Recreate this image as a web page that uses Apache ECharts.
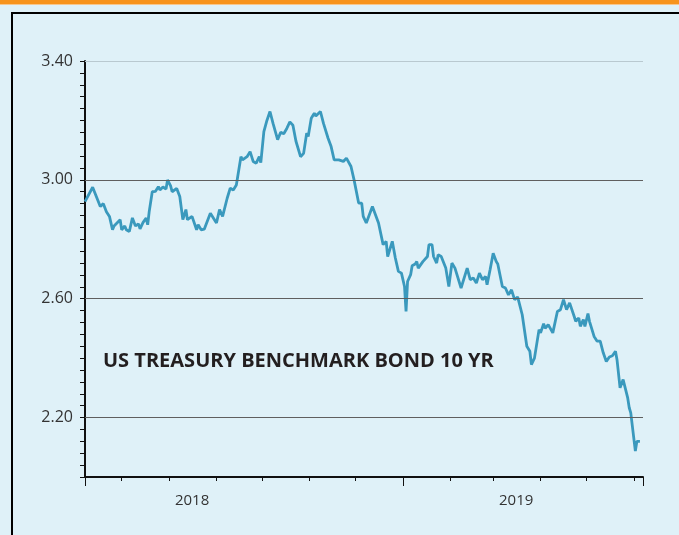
<!DOCTYPE html>
<html>
<head>
<meta charset="utf-8">
<script src="https://cdn.jsdelivr.net/npm/echarts@6/dist/echarts.min.js"></script>
<style>
  html, body { margin: 0; padding: 0; background: #dff1f8; overflow: hidden; }
  #topBar { position: absolute; left: 0; top: 0; width: 679px; height: 4px; background: #f7941d; border-bottom: 1px solid #f6c78f; }
  #frame { position: absolute; left: 11px; top: 12px; width: 700px; height: 560px; border: 2px solid #000; }
  #chart { position: absolute; left: 0; top: 0; width: 679px; height: 535px; }
</style>
</head>
<body>
<div id="topBar"></div>
<div id="frame"></div>
<div id="chart"></div>
<script>
  // 10yr yield; offsets are days after startDate
  var startDate = [2018, 5, 7];
  var endDate = [2019, 5, 7];
  var dayOffsets = [0, 5, 10, 12, 14, 16, 18, 19, 23, 24, 26, 27, 29, 31, 33, 35, 36, 38, 40, 41,
    42, 44, 46, 48, 49, 51, 53, 54, 56, 57, 60, 61, 62, 64, 66, 67, 70, 71, 73, 74,
    76, 78, 82, 86, 88, 90, 93, 94, 95, 97, 99, 102, 103, 106, 108, 110, 112, 114, 115, 117,
    119, 121, 123, 126, 128, 130, 132, 134, 136, 138, 139, 141, 143, 145, 146, 148, 150, 151, 154, 156,
    157, 159, 161, 163, 166, 169, 171, 174, 176, 179, 181, 182, 184, 188, 189, 192, 195, 197, 198, 201,
    203, 205, 207, 209, 210, 211, 213, 214, 216, 217, 218, 221, 224, 225, 227, 228, 229, 230, 231, 233,
    236, 238, 240, 242, 243, 246, 250, 252, 254, 256, 258, 260, 262, 263, 265, 267, 269, 270, 273, 275,
    276, 277, 279, 281, 283, 284, 286, 287, 289, 291, 292, 294, 297, 298, 300, 301, 303, 306, 309, 311,
    313, 315, 317, 320, 321, 323, 324, 326, 327, 329, 330, 333, 334, 335, 337, 339, 340, 341, 343, 345,
    347, 348, 350, 352, 353, 355, 356, 357, 360, 361, 363];
  var yields = [2.927, 2.975, 2.91, 2.92, 2.893, 2.877, 2.832, 2.845, 2.866, 2.832, 2.845, 2.832, 2.826, 2.872, 2.845, 2.852, 2.835, 2.857, 2.871, 2.849,
    2.893, 2.96, 2.961, 2.977, 2.966, 2.976, 2.969, 3.00, 2.98, 2.96, 2.971, 2.966, 2.944, 2.866, 2.90, 2.866, 2.877, 2.88, 2.832, 2.849,
    2.832, 2.834, 2.888, 2.855, 2.90, 2.877, 2.938, 2.938, 2.972, 2.966, 2.983, 3.078, 3.067, 3.078, 3.095, 3.062, 3.056, 3.078, 3.058, 3.162,
    3.20, 3.23, 3.19, 3.135, 3.16, 3.155, 3.173, 3.195, 3.184, 3.13, 3.13, 3.078, 3.089, 3.157, 3.146, 3.207, 3.224, 3.215, 3.23, 3.19,
    3.184, 3.14, 3.112, 3.067, 3.067, 3.062, 3.073, 3.045, 3.00, 2.922, 2.922, 2.877, 2.855, 2.91, 2.91, 2.855, 2.782, 2.793, 2.742, 2.793,
    2.737, 2.692, 2.686, 2.641, 2.557, 2.658, 2.681, 2.711, 2.717, 2.725, 2.703, 2.725, 2.742, 2.782, 2.782, 2.742, 2.748, 2.72, 2.748, 2.742,
    2.703, 2.641, 2.72, 2.703, 2.703, 2.636, 2.703, 2.664, 2.67, 2.653, 2.686, 2.664, 2.675, 2.647, 2.698, 2.753, 2.725, 2.717, 2.641, 2.636,
    2.641, 2.613, 2.63, 2.597, 2.606, 2.61, 2.546, 2.54, 2.44, 2.423, 2.378, 2.40, 2.496, 2.485, 2.516, 2.50, 2.513, 2.485, 2.557, 2.563,
    2.597, 2.563, 2.586, 2.54, 2.524, 2.535, 2.507, 2.53, 2.507, 2.55, 2.524, 2.473, 2.479, 2.457, 2.457, 2.418, 2.412, 2.389, 2.404, 2.408,
    2.423, 2.395, 2.30, 2.328, 2.328, 2.266, 2.233, 2.216, 2.087, 2.12, 2.12];
  var yTickLabels = ['2.20', '2.60', '3.00', '3.40'];
  var gridValues = [2.2, 2.6, 3.0, 3.4];
  // year labels sit on these month ticks
  var yearLabels = { '2018-7': '2018', '2019-2': '2019' };
  var chartTitle = 'US TREASURY BENCHMARK BOND 10 YR';

  var DAY = 86400000;
  var t0 = new Date(startDate[0], startDate[1], startDate[2]).getTime();
  var t1 = new Date(endDate[0], endDate[1], endDate[2]).getTime();
  var seriesData = [];
  for (var i = 0; i < dayOffsets.length; i++) {
    var d = new Date(startDate[0], startDate[1], startDate[2] + dayOffsets[i]);
    seriesData.push([d.getTime(), yields[i]]);
  }
  var markData = [];
  for (var k = 0; k < gridValues.length; k++) {
    var item = { yAxis: gridValues[k] };
    if (k === gridValues.length - 1) {
      item.lineStyle = { color: '#b9c9d0' };
    }
    markData.push(item);
  }

  var myChart = echarts.init(document.getElementById('chart'));
  var option = {
    animation: false,
    backgroundColor: 'transparent',
    title: {
      text: chartTitle,
      left: 103,
      top: 351,
      padding: 0,
      textStyle: {
        fontFamily: 'Open Sans',
        fontWeight: 'bold',
        fontSize: 20,
        color: '#231f20'
      }
    },
    grid: {
      left: 85,
      right: 36,
      top: 61,
      bottom: 58,
      containLabel: false
    },
    xAxis: [{
      type: 'time',
      min: t0,
      max: t1,
      splitNumber: 12,
      minInterval: 28 * DAY,
      maxInterval: 31 * DAY,
      axisLine: { lineStyle: { color: '#111', width: 2 } },
      axisTick: { show: true, length: 4, lineStyle: { color: '#111', width: 1 } },
      splitLine: { show: false },
      axisLabel: {
        interval: 0,
        hideOverlap: false,
        showMinLabel: false,
        showMaxLabel: false,
        margin: 16,
        padding: [0, 0, 0, 46],
        fontFamily: 'Open Sans',
        fontSize: 15,
        color: '#333',
        formatter: function(value) {
          var dt = new Date(value);
          var key = dt.getFullYear() + '-' + dt.getMonth();
          if (dt.getDate() === 1 && yearLabels[key]) {
            return yearLabels[key];
          }
          return '';
        }
      }
    }, {
      type: 'time',
      position: 'bottom',
      min: t0,
      max: t1,
      splitNumber: 1,
      minInterval: 365 * DAY,
      axisLine: { show: false },
      axisTick: { show: true, length: 9, lineStyle: { color: '#111', width: 1 } },
      axisLabel: { show: false },
      splitLine: { show: false }
    }],
    yAxis: {
      type: 'value',
      min: 2.0,
      max: 3.4,
      interval: 0.2,
      axisLine: { show: true, lineStyle: { color: '#111', width: 2 } },
      axisTick: { show: true, length: 5, lineStyle: { color: '#111', width: 1 } },
      minorTick: { show: true, splitNumber: 5, length: 5, lineStyle: { color: '#111', width: 1 } },
      splitLine: { show: false },
      axisLabel: {
        margin: 12,
        fontFamily: 'Open Sans',
        fontSize: 16,
        color: '#333',
        formatter: function(v) {
          var s = v.toFixed(2);
          return yTickLabels.indexOf(s) >= 0 ? s : '';
        }
      }
    },
    series: [{
      name: chartTitle,
      type: 'line',
      data: seriesData,
      showSymbol: false,
      symbol: 'none',
      lineStyle: { color: '#3a99bd', width: 2.8 },
      markLine: {
        silent: true,
        symbol: 'none',
        label: { show: false },
        lineStyle: { type: 'solid', color: '#5f5f5f', width: 1 },
        data: markData
      }
    }]
  };
  myChart.setOption(option);
</script>
</body>
</html>
